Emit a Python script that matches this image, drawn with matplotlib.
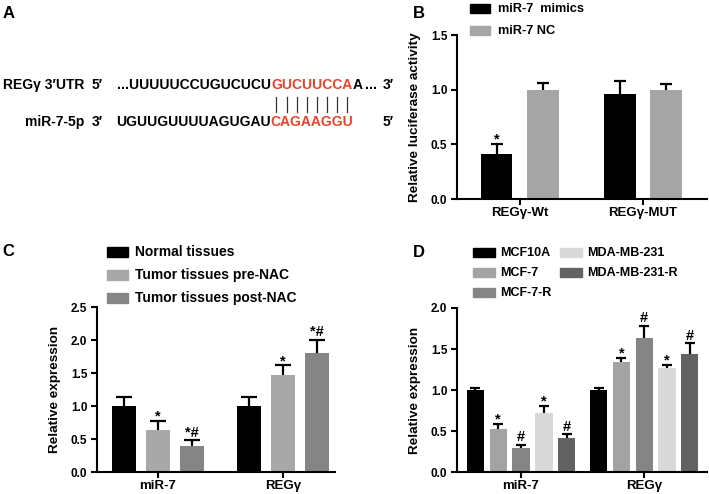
import matplotlib
matplotlib.use("Agg")
import matplotlib.pyplot as plt
from matplotlib.patches import Rectangle
from matplotlib.lines import Line2D
from matplotlib.font_manager import FontProperties
import numpy as np

plt.rcParams["font.family"] = ["Liberation Sans", "DejaVu Sans"]
plt.rcParams["font.weight"] = "bold"
plt.rcParams["axes.labelweight"] = "bold"

W, H = 709, 494
RED = "#e8432a"

# ---- panel A: sequences ----
utr_label = ["REGγ 3′UTR", "5′"]
utr_parts = ["...UUUUUCCUGUCUCU", "GUCUUCCA", "A"]
utr_end = ["...", "3′"]
mir_label = ["miR-7-5p", "3′"]
mir_parts = ["UGUUGUUUUAGUGAU", "CAGAAGGU"]
mir_end = "5′"

# ---- panel B: luciferase ----
b_groups = ["REGγ-Wt", "REGγ-MUT"]
b_series = ["miR-7  mimics", "miR-7 NC"]
b_values = [[0.41, 0.96], [1.0, 1.0]]
b_err_top = [[0.50, 1.075], [1.06, 1.05]]
b_marks = [["*", ""], ["", ""]]
b_colors = ["#000000", "#a5a5a5"]

# ---- panel C: tissues ----
c_groups = ["miR-7", "REGγ"]
c_series = ["Normal tissues", "Tumor tissues pre-NAC", "Tumor tissues post-NAC"]
c_values = [[1.0, 1.0], [0.635, 1.465], [0.40, 1.80]]
c_err_top = [[1.13, 1.13], [0.77, 1.615], [0.485, 2.005]]
c_marks = [["", ""], ["*", "*"], ["*#", "*#"]]
c_colors = ["#000000", "#a8a8a8", "#858585"]

# ---- panel D: cell lines ----
d_groups = ["miR-7", "REGγ"]
d_series = ["MCF10A", "MCF-7", "MCF-7-R", "MDA-MB-231", "MDA-MB-231-R"]
d_values = [[1.0, 1.0], [0.52, 1.345], [0.29, 1.635], [0.72, 1.27], [0.415, 1.445]]
d_err_top = [[1.03, 1.03], [0.59, 1.39], [0.33, 1.785], [0.81, 1.305], [0.46, 1.57]]
d_marks = [["", ""], ["*", "*"], ["#", "#"], ["*", "*"], ["#", "#"]]
d_colors = ["#000000", "#a3a3a3", "#858585", "#d9d9d9", "#626262"]


def fx(px):
    return px / W


def fy(py):
    return 1 - py / H


def make_axes(fig, left, right, top, bottom):
    return fig.add_axes([fx(left), fy(bottom), (right - left) / W, (bottom - top) / H])


def draw_bars(ax, groups, values, err_top, marks, colors, spacing, width, cap):
    x = np.arange(len(groups))
    n = len(values)
    for i in range(n):
        xi = x + (i - (n - 1) / 2) * spacing
        ax.bar(xi, values[i], width, color=colors[i], zorder=2)
        ax.vlines(xi, values[i], err_top[i], color="black", lw=1.6, zorder=3)
        ax.plot(xi, err_top[i], ls="none", marker="_", ms=cap, mew=1.6,
                color="black", zorder=3)
        for xx, top, m in zip(xi, err_top[i], marks[i]):
            if m:
                off = 0.3 if m == "*" else 2.5
                ax.annotate(m, (xx, top), xytext=(0, off), textcoords="offset points",
                            ha="center", va="baseline", fontsize=10.5, fontweight="bold")
    ax.set_xticks(x)
    ax.set_xticklabels(groups)


def style_axes(ax, ylim, step, ylabel, xlim):
    ax.set_xlim(*xlim)
    ax.set_ylim(*ylim)
    ax.set_yticks(np.arange(0, ylim[1] + 1e-9, step))
    ax.yaxis.set_major_formatter(matplotlib.ticker.FormatStrFormatter("%.1f"))
    for s in ["top", "right"]:
        ax.spines[s].set_visible(False)
    for s in ["left", "bottom"]:
        ax.spines[s].set_linewidth(1.5)
    ax.tick_params(axis="both", width=1.5, length=4)
    ax.tick_params(axis="x", labelsize=9.5, pad=2)
    ax.tick_params(axis="y", labelsize=8.5, pad=3)
    for lab in ax.get_xticklabels() + ax.get_yticklabels():
        lab.set_fontweight("bold")
    ax.set_ylabel(ylabel, fontsize=9.7, labelpad=7)


def legend_item(fig, x, y, w, h, color, label, text_x, size):
    fig.add_artist(Rectangle((fx(x), fy(y + h / 2)), w / W, h / H, color=color,
                             transform=fig.transFigure))
    fig.text(fx(text_x), fy(y), label, fontsize=size, fontweight="bold", va="center", ha="left")


fig = plt.figure(figsize=(W / 100, H / 100), dpi=100)

# panel labels
for lab, x, y in [("A", 3, 13), ("B", 413, 14), ("C", 2, 251), ("D", 413, 252)]:
    fig.text(fx(x), fy(y), lab, fontsize=12, fontweight="bold", va="center", ha="left")

# ---- panel A ----
r = fig.canvas.get_renderer()
seq_size = 10
prop = FontProperties(family=["Liberation Sans", "DejaVu Sans"], weight="bold", size=seq_size)


def put(x, y, s, color="black", ha="left"):
    t = fig.text(fx(x), fy(y), s, color=color, fontsize=seq_size, fontweight="bold",
                 va="center", ha=ha)
    return t.get_window_extent(renderer=r).x1


def text_w(s):
    return r.get_text_width_height_descent(s, prop, ismath=False)[0]


put(3, 85, utr_label[0])
put(92, 85, utr_label[1])
x = put(117, 85, utr_parts[0])
red_x0 = x
x = put(x, 85, utr_parts[1], RED)
x = put(x, 85, utr_parts[2])
put(x + 3, 85, utr_end[0])
put(383, 85, utr_end[1])

put(84, 122, mir_label[0], ha="right")
put(92, 122, mir_label[1])
x = put(116, 122, mir_parts[0])
put(x, 122, mir_parts[1], RED)
put(383, 122, mir_end)

red = utr_parts[1]
for k in range(len(red)):
    c = red_x0 + (text_w(red[:k]) + text_w(red[:k + 1])) / 2 if k else red_x0 + text_w(red[0]) / 2
    fig.add_artist(Line2D([fx(c), fx(c)], [fy(97), fy(112)], color="#333333", lw=0.9,
                          transform=fig.transFigure))

# ---- panel B ----
axB = make_axes(fig, 457, 707, 35, 199)
draw_bars(axB, b_groups, b_values, b_err_top, b_marks, b_colors, 0.375, 0.256, 9)
style_axes(axB, (0, 1.5), 0.5, "Relative luciferase activity", (-0.51, 1.52))
for i, (lab, col) in enumerate(zip(b_series, b_colors)):
    legend_item(fig, 470, 8.5 + 22 * i, 20, 9, col, lab, 498, 9.2)

# ---- panel C ----
axC = make_axes(fig, 97, 335, 307, 472)
draw_bars(axC, c_groups, c_values, c_err_top, c_marks, c_colors, 0.272, 0.19, 11)
style_axes(axC, (0, 2.5), 0.5, "Relative expression", (-0.488, 1.416))
for i, (lab, col) in enumerate(zip(c_series, c_colors)):
    legend_item(fig, 107, 252 + 23 * i, 21, 10, col, lab, 135, 10)

# ---- panel D ----
axD = make_axes(fig, 457, 707, 308, 472)
draw_bars(axD, d_groups, d_values, d_err_top, d_marks, d_colors, 0.185, 0.141, 7.5)
style_axes(axD, (0, 2.0), 0.5, "Relative expression", (-0.52, 1.51))
for i, (lab, col) in enumerate(zip(d_series, d_colors)):
    row, colm = i % 3, i // 3
    bx = 473 if colm == 0 else 560
    legend_item(fig, bx, 252.5 + 20 * row, 22, 9, col, lab, bx + 27, 9)

fig.savefig("out.png", dpi=100)
